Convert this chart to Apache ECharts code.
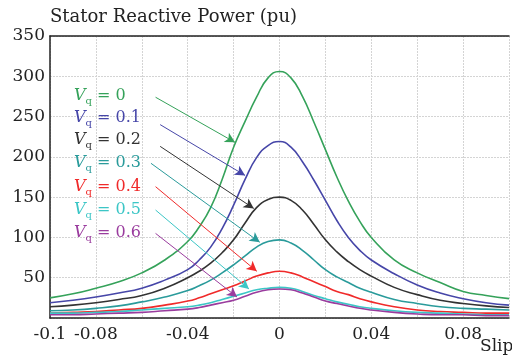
<!DOCTYPE html>
<html>
<head>
<meta charset="utf-8">
<script src="https://cdn.jsdelivr.net/npm/echarts@6/dist/echarts.min.js"></script>
<style>
  html, body { margin: 0; padding: 0; background: #fff; }
  #chart { width: 512px; height: 359px; }
</style>
</head>
<body>
<div id="chart"></div>
<script>
// slip values (x axis)
const slip = [-0.1, -0.09, -0.08, -0.07, -0.06, -0.05, -0.04, -0.035, -0.03, -0.025, -0.02, -0.015, -0.01, -0.005,
    0, 0.005, 0.01, 0.015, 0.02, 0.025, 0.03, 0.035, 0.04, 0.05, 0.06, 0.07, 0.08, 0.09, 0.1]

// stator reactive power (pu), one list per Vq
const vq0 = [25, 30, 37, 45, 56, 72, 95, 113, 137, 172, 212, 244, 274, 298, 306, 298, 275, 243, 209, 175, 145, 120, 100, 72, 56, 44, 33, 28, 24]
const vq1 = [19, 22, 26, 31, 37, 47, 60, 72, 88, 111, 140, 172, 199, 214, 219, 212, 194, 171, 146, 121, 100, 84, 72, 55, 41, 31, 24, 19, 16]
const vq2 = [14, 16, 19, 23, 28, 37, 50, 58, 68, 81, 97, 118, 137, 147, 150, 146, 134, 116, 97, 82, 70, 60, 52, 38, 29, 22, 18, 15, 13]
const vq3 = [9, 10, 12, 15, 20, 26, 34, 40, 47, 56, 66, 77, 88, 95, 97, 93, 84, 72, 60, 51, 44, 37, 32, 23, 18, 14, 12, 11, 10]
const vq4 = [6, 7, 8, 10, 12, 16, 21, 25, 30, 35, 40, 46, 52, 56, 58, 56, 51, 45, 39, 33, 29, 24, 20, 14, 10, 8, 7, 6, 6]
const vq5 = [6, 6, 7, 8, 10, 12, 14, 16, 19, 23, 27, 31, 35, 37, 38, 37, 33, 28, 24, 20, 17, 14, 12, 9, 7, 6, 5, 4, 4]
const vq6 = [4, 4, 5, 6, 7, 9, 11, 13, 16, 19, 22, 27, 32, 35, 36, 35, 31, 26, 21, 18, 15, 12, 10, 7, 5, 4, 4, 3, 3]

const vqNames = ["0", "0.1", "0.2", "0.3", "0.4", "0.5", "0.6"]
const colors = ["#35a25a", "#4646a8", "#333333", "#2a9b9b", "#f02a2a", "#3cc6c6", "#9a3c9e"]

// arrows from each label to its curve: [startSlip, startQ, endSlip, endQ]
const arrows = [
    [-0.054, 274, -0.0194, 218],
    [-0.052, 240, -0.015, 177],
    [-0.052, 213, -0.0112, 136],
    [-0.056, 192, -0.0086, 94],
    [-0.054, 163, -0.0099, 58],
    [-0.054, 134, -0.0133, 36],
    [-0.054, 105, -0.0185, 26],
]

const xTickLabels = ["-0.1", "-0.08", "-0.04", "0", "0.04", "0.08"]
const yTicks = [50, 100, 150, 200, 250, 300, 350]

const allSeries = [vq0, vq1, vq2, vq3, vq4, vq5, vq6]

const font = "DejaVu Serif"

const chart = echarts.init(document.getElementById("chart"))

const series = allSeries.map((vals, i) => ({
    name: "Vq = " + vqNames[i],
    type: "line",
    data: vals.map((v, j) => [slip[j], v]),
    smooth: 0.5,
    showSymbol: false,
    lineStyle: { color: colors[i], width: 1.6 },
    itemStyle: { color: colors[i] },
    z: 3,
    markLine: {
        silent: true,
        animation: false,
        symbol: ["none", "arrow"],
        symbolSize: [8, 10],
        label: { show: false },
        lineStyle: { color: colors[i], width: 1, type: "solid" },
        data: [[
            { coord: [arrows[i][0], arrows[i][1]] },
            { coord: [arrows[i][2], arrows[i][3]] },
        ]],
    },
}))

const labelTop = [88, 110, 132, 155, 179, 202, 225]

const option = {
    animation: false,
    backgroundColor: "#fff",
    textStyle: { fontFamily: font },
    grid: { left: 50, right: -3, top: 36, bottom: 41 },
    xAxis: [
        {
            type: "value",
            min: -0.1,
            max: 0.1,
            interval: 0.02,
            axisLine: { lineStyle: { color: "#222", width: 1.5 } },
            axisTick: { show: false },
            splitLine: { lineStyle: { color: "#d4d4d4", type: [2, 1], width: 1 } },
            axisLabel: {
                color: "#222",
                fontSize: 17,
                fontFamily: font,
                margin: 8,
                formatter: (v) => {
                    const s = String(Math.round(v * 100) / 100)
                    return xTickLabels.includes(s) ? s : ""
                },
            },
        },
        {
            type: "value",
            position: "top",
            min: -0.1,
            max: 0.1,
            axisLine: { show: true, onZero: false, lineStyle: { color: "#222", width: 1.5 } },
            axisTick: { show: false },
            axisLabel: { show: false },
            splitLine: { show: false },
        },
    ],
    yAxis: {
        type: "value",
        min: 0,
        max: 350,
        interval: 50,
        axisLine: { show: true, onZero: false, lineStyle: { color: "#222", width: 1.5 } },
        axisTick: { show: false },
        splitLine: { lineStyle: { color: "#d4d4d4", type: [2, 1], width: 1 } },
        axisLabel: {
            color: "#222",
            fontSize: 17,
            fontFamily: font,
            margin: 5,
            formatter: (v) => (yTicks.includes(v) ? String(v) : ""),
        },
    },
    graphic: [
        {
            type: "text",
            left: 50,
            top: 8,
            style: {
                text: "Stator Reactive Power (pu)",
                fontSize: 18,
                fontFamily: font,
                fill: "#222",
            },
        },
        {
            type: "text",
            left: 480,
            top: 338,
            style: { text: "Slip", fontSize: 17, fontFamily: font, fill: "#222" },
        },
        ...vqNames.map((n, i) => ({
            type: "text",
            left: 74,
            top: labelTop[i],
            z: 10,
            style: {
                text: "{v|V}{q|q}{t| = " + n + "}",
                fill: colors[i],
                rich: {
                    v: { fontFamily: font, fontStyle: "italic", fontSize: 16, fill: colors[i] },
                    q: { fontFamily: font, fontSize: 10, fill: colors[i], padding: [10, 0, 0, 0] },
                    t: { fontFamily: font, fontSize: 16, fill: colors[i] },
                },
            },
        })),
    ],
    series: series,
}

chart.setOption(option)
</script>
</body>
</html>
